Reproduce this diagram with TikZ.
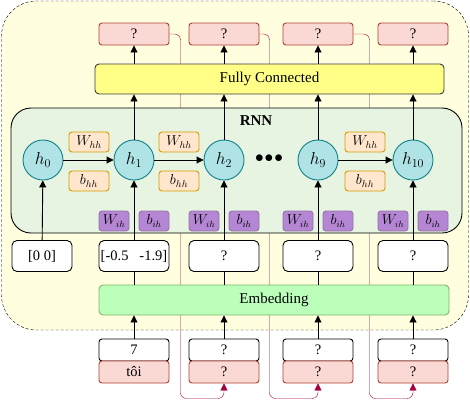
\documentclass[tikz,border=0pt]{standalone}
\usepackage{fontspec}
\setmainfont{Liberation Serif}
\usepackage{amsmath}
\usetikzlibrary{arrows.meta,
	calc,
	positioning,
	backgrounds}

\definecolor{outerfill}{HTML}{FFFFE0}
\definecolor{rnnfill}{HTML}{E6F4E1}
\definecolor{fcfill}{HTML}{FFFF88}
\definecolor{fcline}{HTML}{36393D}
\definecolor{pinkfill}{HTML}{FAD9D5}
\definecolor{pinkline}{HTML}{AE4132}
\definecolor{tealfill}{HTML}{B0E3E6}
\definecolor{tealline}{HTML}{0E8088}
\definecolor{orangefill}{HTML}{FFE6CC}
\definecolor{orangeline}{HTML}{D79B00}
\definecolor{purplefill}{HTML}{B486D4}
\definecolor{purpleline}{HTML}{9673A6}
\definecolor{embfill}{HTML}{BBFFBB}
\definecolor{embline}{HTML}{82B366}
\definecolor{fbline}{HTML}{A50040}

\begin{document}
\begin{tikzpicture}[x=1pt, y=-1pt,
            line width=0.9pt,
            box/.style={draw, rounded corners=3pt, inner sep=0pt,
                    font=\fontsize{14.5}{16}\selectfont},
            outbox/.style={box, fill=pinkfill, draw=pinkline,
                    minimum width=70pt, minimum height=22pt},
            numbox/.style={box, fill=white,
                    minimum width=70pt, minimum height=22pt},
            vecbox/.style={box, fill=white, rounded corners=5pt,
                    minimum width=70pt, minimum height=31pt},
            hstate/.style={circle, draw=tealline, fill=tealfill, inner sep=0pt,
                    minimum size=40pt, font=\fontsize{18}{20}\selectfont},
            hhbox/.style={box, fill=orangefill, draw=orangeline,
                    minimum width=40pt, minimum height=20pt,
                    font=\fontsize{14}{16}\selectfont},
            ihbox/.style={box, fill=purplefill, draw=purpleline,
                    minimum width=30pt, minimum height=20pt,
                    font=\fontsize{13.5}{15}\selectfont},
            arr/.style={-{Triangle[length=7pt, width=7pt]}},
            fb/.style={draw=fbline, rounded corners=6pt,
                    -{Triangle[length=7pt, width=7pt]}}
        ]
            \useasboundingbox (0,0) rectangle (470,408);

            % rnn block and dense layer
            \node[box, fill=rnnfill, rounded corners=20pt,
                minimum width=451pt, minimum height=125pt] (rnn) at (236.5,170.5) {};
            \node[font=\fontsize{15}{17}\selectfont\bfseries] (rnnlabel) at (256,121) {RNN};
            \node[box, fill=fcfill, draw=fcline, rounded corners=4pt,
                minimum width=349pt, minimum height=30pt,
                font=\fontsize{15}{17}\selectfont] (fc) at (269.5,79) {Fully Connected};

            % outputs
            \node[outbox] (o1) at (134,34) {?};
            \node[outbox] (o2) at (224,34) {?};
            \node[outbox] (o3) at (318,34) {?};
            \node[outbox] (o4) at (413,34) {?};

            % hidden states
            \node[hstate] (h0) at (43,160) {$h_0$};
            \node[hstate] (h1) at (134,160) {$h_1$};
            \node[hstate] (h2) at (224,160) {$h_2$};
            \node[hstate] (h9) at (318,160) {$h_9$};
            \node[hstate] (h10) at (413,160) {$h_{10}$};
            \node[font=\fontsize{18}{20}\selectfont] (dots) at (269,159) {$\bullet\!\bullet\!\bullet$};

            \node[hhbox] (whh1) at (89,142) {$W_{hh}$};
            \node[hhbox] (bhh1) at (89,181) {$b_{hh}$};
            \node[hhbox] (whh2) at (179,142) {$W_{hh}$};
            \node[hhbox] (bhh2) at (179,181) {$b_{hh}$};
            \node[hhbox] (whh3) at (365,142) {$W_{hh}$};
            \node[hhbox] (bhh3) at (365,181) {$b_{hh}$};

            \node[ihbox] (wih1) at (114,221) {$W_{ih}$};
            \node[ihbox] (bih1) at (154,221) {$b_{ih}$};
            \node[ihbox] (wih2) at (204,221) {$W_{ih}$};
            \node[ihbox] (bih2) at (244,221) {$b_{ih}$};
            \node[ihbox] (wih3) at (298,221) {$W_{ih}$};
            \node[ihbox] (bih3) at (338,221) {$b_{ih}$};
            \node[ihbox] (wih4) at (393,221) {$W_{ih}$};
            \node[ihbox] (bih4) at (433,221) {$b_{ih}$};

            % embedded vectors
            \node[vecbox, minimum width=60pt] (v0) at (42,256) {[0 0]};
            \node[vecbox] (v1) at (134,256) {[-0.5\hspace{11pt}-1.9]};
            \node[vecbox] (v2) at (224,256) {?};
            \node[vecbox] (v3) at (318,256) {?};
            \node[vecbox] (v4) at (413,256) {?};

            \node[box, fill=embfill, draw=embline, rounded corners=4pt,
                minimum width=350pt, minimum height=30pt,
                font=\fontsize{15}{17}\selectfont] (emb) at (274,300) {Embedding};

            % inputs
            \node[numbox] (n1) at (134,350) {7};
            \node[numbox] (n2) at (224,350) {?};
            \node[numbox] (n3) at (318,350) {?};
            \node[numbox] (n4) at (413,350) {?};
            \node[outbox] (w1) at (134,372) {tôi};
            \node[outbox] (w2) at (224,372) {?};
            \node[outbox] (w3) at (318,372) {?};
            \node[outbox] (w4) at (413,372) {?};

            % connectors
            \draw[arr] (h0) -- (h1);
            \draw[arr] (h1) -- (h2);
            \draw[arr] (h9) -- (h10);
            \draw[arr] (v0) -- (h0);
            \draw[arr] (v1) -- (h1);
            \draw[arr] (v2) -- (h2);
            \draw[arr] (v3) -- (h9);
            \draw[arr] (v4) -- (h10);
            \draw[arr] (h1) -- (h1 |- fc.south);
            \draw[arr] (h2) -- (h2 |- fc.south);
            \draw[arr] (h9) -- (h9 |- fc.south);
            \draw[arr] (h10) -- (h10 |- fc.south);
            \draw[arr] (o1 |- fc.north) -- (o1);
            \draw[arr] (o2 |- fc.north) -- (o2);
            \draw[arr] (o3 |- fc.north) -- (o3);
            \draw[arr] (o4 |- fc.north) -- (o4);
            \draw (v1) -- (v1 |- emb.north);
            \draw (v2) -- (v2 |- emb.north);
            \draw (v3) -- (v3 |- emb.north);
            \draw (v4) -- (v4 |- emb.north);
            \draw[arr] (n1) -- (n1 |- emb.south);
            \draw[arr] (n2) -- (n2 |- emb.south);
            \draw[arr] (n3) -- (n3 |- emb.south);
            \draw[arr] (n4) -- (n4 |- emb.south);

            \begin{scope}[on background layer]
                \node[draw, dashed, dash pattern=on 3pt off 2pt, fill=outerfill,
                    rounded corners=35pt, minimum width=467pt, minimum height=329pt]
                    (frame) at (235,165.5) {};
                % feedback of each output to the next input
                \draw[fb] (o1.east) -- ++(11,0) coordinate (t1)
                    -- (t1 |- w2.south) -- ++(0,15) -| (w2.south);
                \draw[fb] (o2.east) -- ++(10,0) coordinate (t2)
                    -- (t2 |- w3.south) -- ++(0,15) -| (w3.south);
                \draw[fb] (o3.east) -- ++(16,0) coordinate (t3)
                    -- (t3 |- w4.south) -- ++(0,15) -| (w4.south);
            \end{scope}
        \end{tikzpicture}
\end{document}
